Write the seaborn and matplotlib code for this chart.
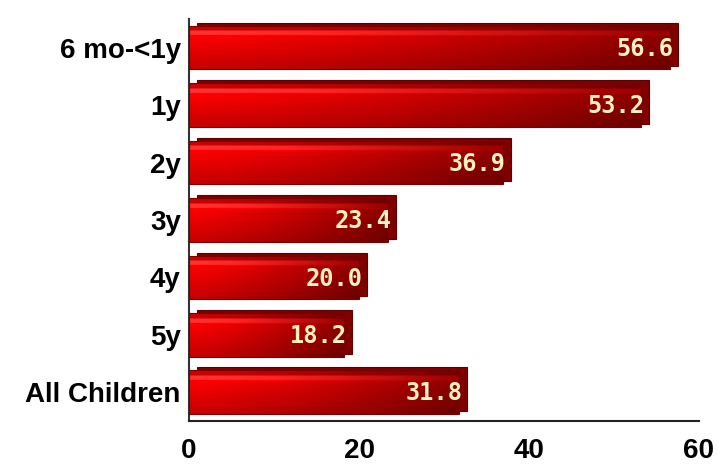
import numpy as np
import pandas as pd
import matplotlib
matplotlib.use("Agg")
import matplotlib.pyplot as plt
import matplotlib.transforms as mtransforms
from matplotlib.patches import Rectangle
import seaborn as sns

# Chart data
AGE_GROUPS = ['6 mo-<1y', '1y', '2y', '3y', '4y', '5y', 'All Children']
RATES      = [56.6, 53.2, 36.9, 23.4, 20.0, 18.2, 31.8]
X_TICKS    = [0, 20, 40, 60]

df = pd.DataFrame({'group': AGE_GROUPS, 'rate': RATES})

sns.set_style("white")
plt.rcParams['font.family'] = ['Liberation Sans', 'DejaVu Sans']

fig = plt.figure(figsize=(7.19, 4.67), dpi=100)
ax = fig.add_axes([0.263, 0.0985, 0.709, 0.861])

sns.barplot(data=df, x='rate', y='group', orient='h', color='red',
            width=0.76, ax=ax, saturation=1)

# red gradient fill, clipped to each bar
nx, ny = 200, 40
hx = np.linspace(0, 1, nx)[None, :]
vy = np.linspace(0, 1, ny)[:, None]
shade = 1.0 - 0.45 * hx ** 1.3
vert = np.where(vy < 0.12, 0.8, np.where(vy < 0.24, 1.1, 1.0 - 0.3 * (vy - 0.24)))
r = np.clip(shade * vert, 0, 1)
g = (((vy > 0.12) & (vy < 0.22)) * 0.2 * (1 - hx))
img = np.dstack([r, g, g])

# 3D depth: a darker copy of each bar pushed up and to the right
depth = mtransforms.offset_copy(ax.transData, fig=fig, x=8, y=3, units='dots')

for patch in list(ax.patches):
    x0, y0 = patch.get_x(), patch.get_y()
    w, h = patch.get_width(), patch.get_height()
    back = Rectangle((x0, y0), w, h, transform=depth, facecolor='#7e0000',
                     edgecolor='#5e0000', linewidth=0.8, zorder=1.5, clip_on=False)
    ax.add_patch(back)
    im = ax.imshow(img, extent=[x0, x0 + w, y0 + h, y0], aspect='auto',
                   origin='upper', zorder=2, interpolation='bilinear')
    im.set_clip_path(patch)
    patch.set_facecolor('none')
    patch.set_edgecolor('#7a0000')
    patch.set_linewidth(0.8)
    patch.set_zorder(3)

for i, v in enumerate(RATES):
    ax.text(v + 0.4, i + 0.02, f'{v:.1f}', ha='right', va='center',
            fontsize=17, fontweight='bold', family='DejaVu Sans Mono',
            color='#fff2c0', zorder=4)

ax.set_xlim(0, 60)
ax.set_ylim(len(AGE_GROUPS) - 0.5, -0.5)
ax.set_xticks(X_TICKS)
ax.set_xticklabels([str(t) for t in X_TICKS])
ax.set_yticks(np.arange(len(AGE_GROUPS)))
ax.set_yticklabels(AGE_GROUPS)
ax.set_xlabel('')
ax.set_ylabel('')

# ticks between categories on the y axis
ax.set_yticks(np.arange(len(AGE_GROUPS) + 1) - 0.5, minor=True)
ax.tick_params(axis='y', which='major', length=0, pad=6, labelsize=20)
ax.tick_params(axis='y', which='minor', length=6, width=1.2, color='#222222', direction='out')
ax.tick_params(axis='x', which='major', length=4, width=1.2, color='#222222',
               direction='out', labelsize=20, pad=8)
for lab in ax.get_yticklabels() + ax.get_xticklabels():
    lab.set_fontweight('bold')
    lab.set_color('#000000')

sns.despine(ax=ax, top=True, right=True)
ax.spines['left'].set_color('#333333')
ax.spines['bottom'].set_color('#222222')
ax.spines['left'].set_linewidth(1.5)
ax.spines['bottom'].set_linewidth(1.5)

fig.savefig('out.png', dpi=100)
